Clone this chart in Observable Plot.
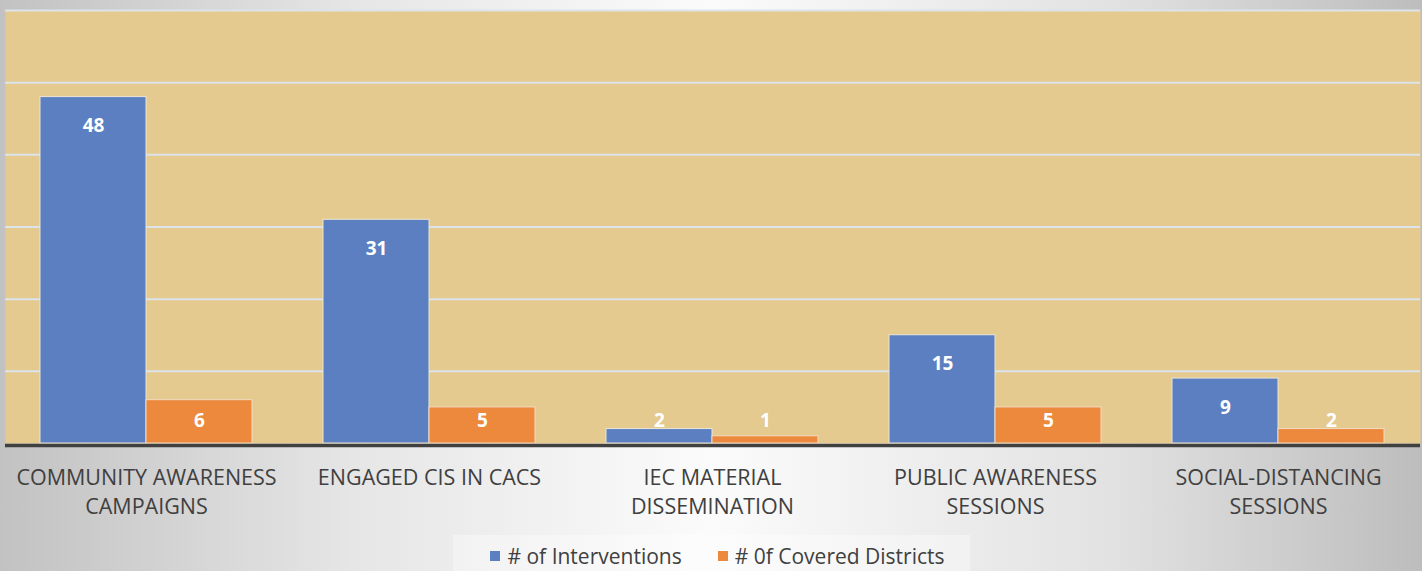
<!DOCTYPE html>
<html>
<head>
<meta charset="utf-8">
<script src="https://cdn.jsdelivr.net/npm/d3@7"></script>
<script src="https://cdn.jsdelivr.net/npm/@observablehq/plot@0.6"></script>
<style>
  html, body { margin: 0; padding: 0; }
  body {
    width: 1422px; height: 571px; overflow: hidden;
    background: linear-gradient(to right, #c2c2c2 0%, #e6e6e6 25%, #fbfbfb 50%, #e2e2e2 78%, #bdbdbd 100%);
    font-family: "Open Sans", sans-serif;
  }
  #chart svg { display: block; }
  #legend {
    position: relative; height: 36px;
  }
  #legend .box {
    position: absolute; left: 453px; width: 517px; top: 0; height: 36px;
    background: rgba(255,255,255,0.35);
    display: flex; align-items: center; justify-content: center; gap: 36px;
    font-size: 21px; color: #404040; padding-top: 5px; padding-left: 12px; box-sizing: border-box;
  }
  #legend .item { display: flex; align-items: center; gap: 7px; }
  #legend .sw { width: 10px; height: 10px; display: inline-block; }
</style>
</head>
<body>
<div id="chart"></div>
<div id="legend"><div class="box"></div></div>
<script>
const categories = [
  "COMMUNITY AWARENESS CAMPAIGNS",
  "ENGAGED CIS IN CACS",
  "IEC MATERIAL DISSEMINATION",
  "PUBLIC AWARENESS SESSIONS",
  "SOCIAL-DISTANCING SESSIONS"
];
const tickLabels = [
  "COMMUNITY AWARENESS\nCAMPAIGNS",
  "ENGAGED CIS IN CACS",
  "IEC MATERIAL\nDISSEMINATION",
  "PUBLIC AWARENESS\nSESSIONS",
  "SOCIAL-DISTANCING\nSESSIONS"
];
const interventions = [48, 31, 2, 15, 9];
const districts = [6, 5, 1, 5, 2];
const seriesNames = ["# of Interventions", "# 0f Covered Districts"];
const seriesColors = ["#5b7fc0", "#ec893d"];

const rows = categories.map((c, i) => ({category: c, interventions: interventions[i], districts: districts[i]}));
const labelPos = v => Math.max(v - 4, 3.2);

const chart = Plot.plot({
  width: 1422,
  height: 535,
  marginTop: 10,
  marginBottom: 92,
  marginLeft: 5,
  marginRight: 2,
  style: {background: "transparent", fontFamily: "Open Sans, sans-serif"},
  x: {domain: categories, paddingInner: 0.25, paddingOuter: 0.125},
  y: {domain: [0, 60], axis: null},
  marks: [
    Plot.frame({fill: "#e4ca8f", stroke: null}),
    Plot.ruleY([10, 20, 30, 40, 50, 60], {stroke: "#dce3ea", strokeWidth: 2}),
    Plot.barY(rows, {x: "category", y: "interventions", fill: seriesColors[0], stroke: "#ece6d6", strokeWidth: 1, insetRight: 106}),
    Plot.barY(rows, {x: "category", y: "districts", fill: seriesColors[1], stroke: "#f0dcc4", strokeWidth: 1, insetLeft: 106}),
    Plot.text(rows, {x: "category", y: d => labelPos(d.interventions), text: d => String(d.interventions), dx: -53, fill: "white", fontWeight: "bold", fontSize: 19}),
    Plot.text(rows, {x: "category", y: d => labelPos(d.districts), text: d => String(d.districts), dx: 53, fill: "white", fontWeight: "bold", fontSize: 19}),
    Plot.ruleY([0], {stroke: "#404040", strokeWidth: 3.5, dy: 2}),
    Plot.axisX({
      tickSize: 0, tickPadding: 21, fontSize: 21.5, lineHeight: 1.35,
      tickFormat: d => tickLabels[categories.indexOf(d)],
      fill: "#404040", label: null
    })
  ]
});
document.getElementById("chart").appendChild(chart);

const box = document.querySelector("#legend .box");
seriesNames.forEach((n, i) => {
  const it = document.createElement("div");
  it.className = "item";
  const sw = document.createElement("span");
  sw.className = "sw"; sw.style.background = seriesColors[i];
  const t = document.createElement("span");
  t.textContent = n;
  it.appendChild(sw); it.appendChild(t);
  box.appendChild(it);
});
</script>
</body>
</html>
